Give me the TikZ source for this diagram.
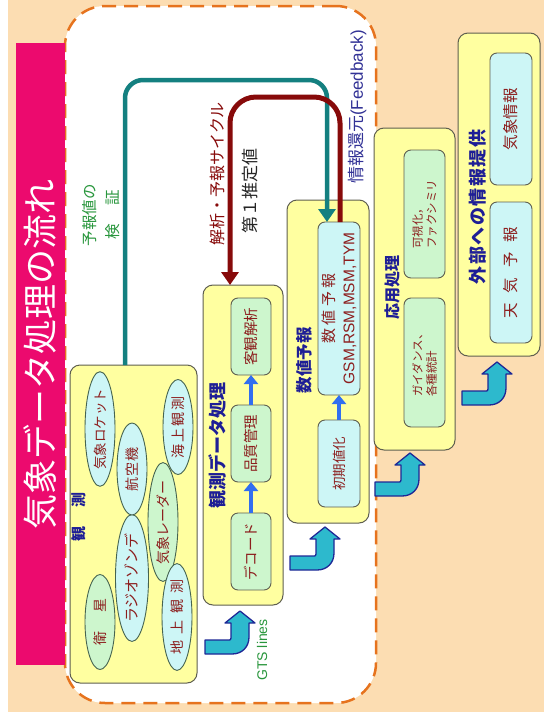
\documentclass[tikz,border=0pt]{standalone}
\usepackage{fontspec}
\setmainfont{Noto Sans CJK JP}
\newfontfamily\latin{Liberation Sans}
\usetikzlibrary{shapes.geometric,arrows.meta}
\definecolor{peach}{RGB}{252,221,178}
\definecolor{pinkbar}{RGB}{236,10,110}
\definecolor{dashor}{RGB}{230,115,30}
\definecolor{boxyel}{RGB}{255,255,160}
\definecolor{boxedge}{RGB}{95,95,80}
\definecolor{lcyan}{RGB}{205,246,246}
\definecolor{lgreen}{RGB}{205,246,205}
\definecolor{ttlblue}{RGB}{30,30,150}
\definecolor{txtred}{RGB}{140,30,30}
\definecolor{tealc}{RGB}{20,128,128}
\definecolor{redc}{RGB}{135,10,10}
\definecolor{cyanarr}{RGB}{45,185,205}
\definecolor{arredge}{RGB}{30,40,150}
\definecolor{smallblue}{RGB}{50,110,240}
\definecolor{greentxt}{RGB}{40,150,60}
\definecolor{navytxt}{RGB}{50,50,150}
\definecolor{elledge}{RGB}{70,100,80}
\newcommand{\fs}[1]{\fontsize{#1}{#1}\selectfont}
\makeatletter
\newcommand{\spc}[2]{\def\spc@gap{\hspace{#1pt}}\let\spc@first\relax\@tfor\spc@t:=#2\do{\spc@first\spc@t\let\spc@first\spc@gap}}
\makeatother
\begin{document}
\begin{tikzpicture}[x=1pt,y=-1pt,
 ybox/.style={draw=boxedge,fill=boxyel,line width=1pt,rounded corners=10pt,inner sep=0pt,outer sep=0pt},
 ibox/.style={draw=boxedge,line width=0.9pt,rounded corners=7pt,inner sep=0pt,outer sep=0pt,rotate=90,text=txtred,align=center},
 oell/.style={ellipse,draw=elledge,line width=0.9pt,inner sep=0pt,outer sep=0pt,rotate=90,text=txtred,font=\fs{14}},
 ttl/.style={rotate=90,text=ttlblue,inner sep=0pt,font=\bfseries\fs{18}},
 rtext/.style={rotate=90,inner sep=0pt},
 smallarr/.style={draw=smallblue,line width=4.5pt,-{Triangle[width=14pt,length=9pt]}},
 flowarr/.style={line width=4.5pt,-{Triangle[width=17pt,length=13pt]}},
 bentarrow/.pic={
  \draw[fill=cyanarr,draw=arredge,line width=1.3pt,line join=round]
   (0,0) -- (15,12) -- (9,12) -- (9,26)
   .. controls (9,36) and (2,43) .. (-8,43)
   -- (-35,43) -- (-35,29) -- (-11,29)
   .. controls (-9.5,29) .. (-9,27)
   -- (-9,12) -- (-15,12) -- cycle;
 }
]
\useasboundingbox (0,0) rectangle (544,718);
\fill[white] (0,0) rectangle (544,718);
\fill[peach] (8,0) rectangle (544,712);
\node[draw=dashor,fill=white,line width=2.5pt,dash pattern=on 14pt off 8pt,rounded corners=40pt,minimum width=311pt,minimum height=697pt,inner sep=0pt] (frame) at (220.5,354.5) {};
\node[fill=pinkbar,rotate=90,minimum width=622pt,minimum height=49pt,inner sep=0pt,text=white,font=\fs{35}] (title) at (40.5,354) {気象データ処理の流れ};

% main boxes
\node[ybox,minimum width=127pt,minimum height=318pt] (obs) at (133.5,524) {};
\node[ybox,minimum width=80pt,minimum height=320pt] (proc) at (243,445) {};
\node[ybox,minimum width=82pt,minimum height=323pt] (num) at (328,361.5) {};
\node[ybox,minimum width=81pt,minimum height=322pt] (app) at (414.5,289) {};
\node[ybox,minimum width=82pt,minimum height=323pt] (ext) at (499,194.5) {};

% titles
\node[ttl,font=\bfseries\fs{15}] (tobs) at (79,517) {観\hspace{1.3em}測};
\node[ttl] (tproc) at (218,445) {観測データ処理};
\node[ttl,font=\bfseries\fs{16.5}] (tnum) at (304,360) {数値予報};
\node[ttl,font=\bfseries\fs{16}] (tapp) at (392,287) {応用処理};
\node[ttl] (text) at (478,207) {\spc{1.5}{外部への情報提供}};

% observation ellipses
\node[oell,fill=lgreen,minimum width=95pt,minimum height=30pt] (eisei) at (100,622) {衛\hspace{1.4em}星};
\node[oell,fill=lcyan,minimum width=100pt,minimum height=33pt,font=\fs{15}] (radio) at (132,578) {ラジオゾンデ};
\node[oell,fill=lcyan,minimum width=92pt,minimum height=30pt,font=\fs{13.5}] (rocket) at (100,429) {気象ロケット};
\node[oell,fill=lcyan,minimum width=92pt,minimum height=30pt] (plane) at (132,469) {\spc{1}{航空機}};
\node[oell,fill=lgreen,minimum width=91pt,minimum height=30pt] (radar) at (163,522) {気象レーダー};
\node[oell,fill=lcyan,minimum width=95pt,minimum height=30pt] (sea) at (178,427) {\spc{2}{海上観測}};
\node[oell,fill=lcyan,minimum width=99pt,minimum height=30pt] (land) at (177,617) {\spc{6.5}{地上観測}};

% inner boxes
\node[ibox,fill=lgreen,minimum width=77pt,minimum height=40pt,font=\fs{14.5}] (kyakkan) at (251,336.5) {客観解析};
\node[ibox,fill=lgreen,minimum width=77pt,minimum height=40pt,font=\fs{14.5}] (hinshitsu) at (251,443.5) {品質管理};
\node[ibox,fill=lgreen,minimum width=77pt,minimum height=40pt,font=\fs{14.5}] (decode) at (251,551.5) {デコード};
\node[ibox,fill=lcyan,minimum width=173pt,minimum height=42pt,font=\fontsize{15.5}{20}\selectfont] (numfc) at (339,308.5) {{\fontsize{15}{20}\selectfont\spc{3.3}{数値予報}}\\{\latin GSM,RSM,MSM,TYM}};
\node[ibox,fill=lcyan,minimum width=87pt,minimum height=42pt,font=\fs{13.5}] (shoki) at (339,463.5) {初期値化};
\node[ibox,fill=lgreen,minimum width=128pt,minimum height=41pt,align=left,font=\fontsize{11.5}{14}\selectfont] (kashika) at (424.5,214) {可視化，\\ファクシミリ};
\node[ibox,fill=lgreen,minimum width=129pt,minimum height=41pt,align=left,font=\fontsize{11.5}{14}\selectfont] (guide) at (424.5,362.5) {ガイダンス、\\各種統計};
\node[ibox,fill=lcyan,minimum width=132pt,minimum height=42pt,font=\fs{15.5}] (kisho) at (511,119) {気象情報};
\node[ibox,fill=lcyan,minimum width=141pt,minimum height=42pt,font=\fs{15.5}] (tenki) at (511,272.5) {\spc{10}{天気予報}};

% small arrows
\draw[smallarr] (decode.east) -- (hinshitsu.west);
\draw[smallarr] (hinshitsu.east) -- (kyakkan.west);
\draw[smallarr] (shoki.east) -- (numfc.west);

% flow arrows
\coordinate (tc1) at (125,80);
\coordinate (tc2) at (327,80);
\draw[flowarr,tealc,rounded corners=18pt] (obs.north -| tc1) -- (tc1) -- (tc2) -- (numfc.east -| tc2);
\coordinate (rc1) at (340,97);
\coordinate (rc2) at (230,97);
\draw[flowarr,redc,line width=5pt,rounded corners=26pt] (numfc.east -| rc1) -- (rc1) -- (rc2) -- (proc.north -| rc2);

% bent block arrows
\pic at (240,611) {bentarrow};
\pic at (325,527) {bentarrow};
\pic at (410,453) {bentarrow};
\pic at (497,362) {bentarrow};

% labels
\node[rtext,text=greentxt,font=\latin\fs{14}] (gts) at (262,650) {GTS lines};
\node[rtext,text=greentxt,align=center,font=\fontsize{15.5}{23}\selectfont] (verify) at (101.5,215) {予報値の\\検\hspace{1.2em}証};
\node[rtext,text=redc,font=\fs{16}] (cycle) at (217.5,174) {解析・予報サイクル};
\node[rtext,text=black!85,font=\fs{17}] (first) at (250,191) {第１推定値};
\node[rtext,text=navytxt,font=\fs{17}] (feedback) at (357.5,107) {情報還元{\latin(Feedback)}};
\end{tikzpicture}
\end{document}
